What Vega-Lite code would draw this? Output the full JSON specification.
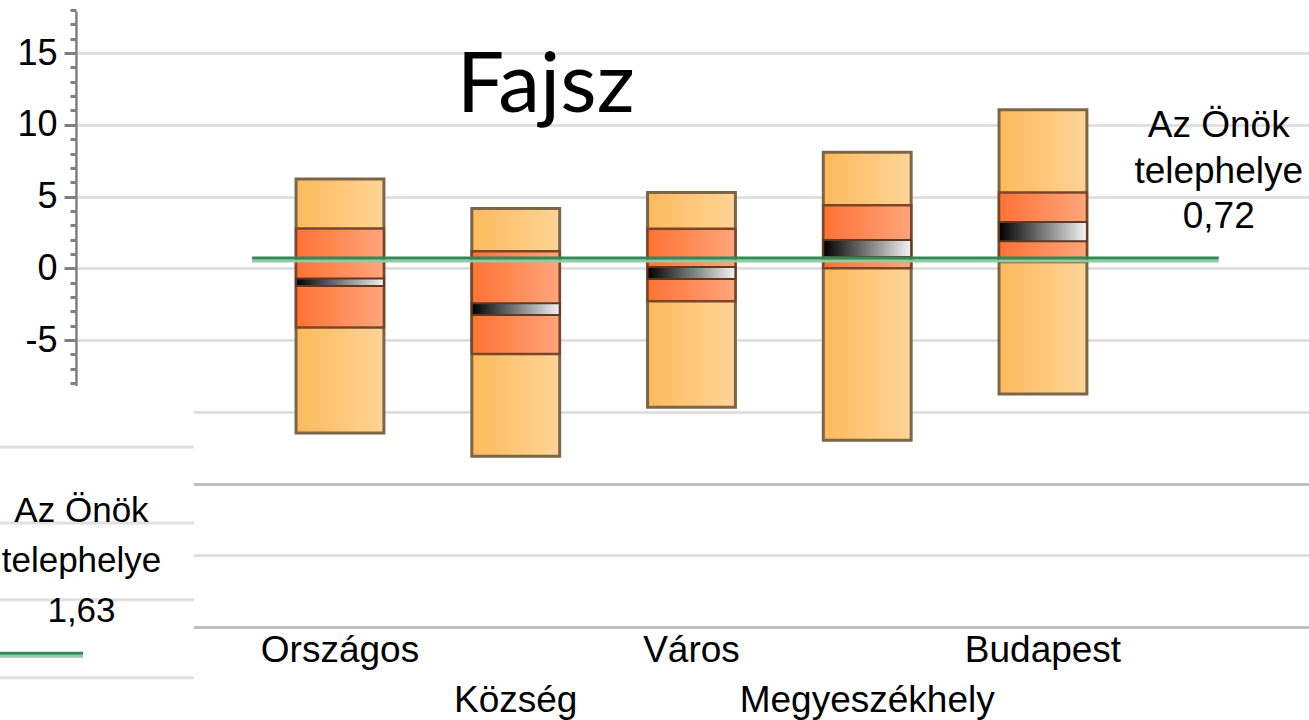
{
  "$schema": "https://vega.github.io/schema/vega-lite/v6.json",
  "autosize": {"type": "none"},
  "padding": {"left": 76, "top": 0, "right": 0, "bottom": 93},
  "width": 1233,
  "height": 627,
  "background": "white",
  "config": {"view": {"stroke": null}},
  "datasets": {
    "boxes": [
      {"cat": "Országos", "min": -11.48, "q1": -4.13, "ciLo": -1.23, "ciHi": -0.71, "q3": 2.77, "max": 6.22},
      {"cat": "Község", "min": -13.1, "q1": -5.97, "ciLo": -3.26, "ciHi": -2.43, "q3": 1.18, "max": 4.17},
      {"cat": "Város", "min": -9.69, "q1": -2.3, "ciLo": -0.75, "ciHi": 0.09, "q3": 2.76, "max": 5.28},
      {"cat": "Megyeszékhely", "min": -11.99, "q1": 0.01, "ciLo": 0.79, "ciHi": 1.97, "q3": 4.39, "max": 8.08},
      {"cat": "Budapest", "min": -8.76, "q1": 0.44, "ciLo": 1.88, "ciHi": 3.23, "q3": 5.28, "max": 11.05}
    ],
    "site": [{"start": "Országos", "cat": "Az Önök telephelye", "label": "Az Önök\ntelephelye\n0,72", "value": 0.72}],
    "title": [{"cat": "Község", "title": "Fajsz"}],
    "panel": [{"panel": "bal", "label": "Az Önök\ntelephelye\n1,63", "value": 1.63}],
    "panelLines": [
      {"panel": "bal", "v": -12.45},
      {"panel": "bal", "v": -17.75},
      {"panel": "bal", "v": -23.1},
      {"panel": "bal", "v": -28.53}
    ]
  },
  "resolve": {"scale": {"x": "independent"}, "axis": {"x": "independent"}},
  "layer": [
    {
      "layer": [
        {
          "data": {"name": "boxes"},
          "mark": {"type": "bar", "width": {"band": 0.5}, "fill": {"gradient": "linear", "x1": 0, "y1": 0, "x2": 1, "y2": 0, "stops": [{"offset": 0, "color": "#fdba5c"}, {"offset": 1, "color": "#ffd497"}]}, "stroke": "#7c6648", "strokeWidth": 3},
          "encoding": {
            "x": {"field": "cat", "type": "nominal",
              "scale": {"type": "band", "domain": ["Országos", "Község", "Város", "Megyeszékhely", "Budapest", "Az Önök telephelye"], "range": [0, 1233], "paddingInner": 0, "paddingOuter": 0.50782, "align": 0.98655},
              "axis": {"values": ["Országos", "Község", "Város", "Megyeszékhely", "Budapest"], "title": null, "domain": true, "domainColor": "#c0c0c0", "domainWidth": 3, "ticks": false, "grid": false,
                "labelExpr": "datum.value === 'Község' || datum.value === 'Megyeszékhely' ? ['', datum.value] : datum.value",
                "labelFont": "Liberation Sans", "labelFontSize": 37, "labelColor": "#000000", "labelPadding": 5, "labelLineHeight": 50, "labelOverlap": false, "labelAngle": 0, "labelLimit": 0}},
            "y": {"field": "max", "type": "quantitative",
              "scale": {"domain": [-25, 18.7], "nice": false, "zero": false},
              "axis": {"title": null, "domain": false, "tickCount": 200,
                "values": [-25,-24,-23,-22,-21,-20,-19,-18,-17,-16,-15,-14,-13,-12,-11,-10,-9,-8,-7,-6,-5,-4,-3,-2,-1,0,1,2,3,4,5,6,7,8,9,10,11,12,13,14,15,16,17,18],
                "labelExpr": "datum.value % 5 === 0 && datum.value >= -5 && datum.value <= 15 ? toString(datum.value) : ''",
                "labelFont": "Liberation Sans", "labelFontSize": 36, "labelColor": "#000000", "labelPadding": 7, "labelOverlap": false, "labelFlush": false, "labelBound": false,
                "tickSize": {"condition": {"test": "datum.value % 5 === 0", "value": 12}, "value": 6},
                "tickOpacity": {"condition": {"test": "datum.value >= -8", "value": 1}, "value": 0},
                "tickColor": "#808080", "tickWidth": 3,
                "grid": true,
                "gridOpacity": {"condition": {"test": "datum.value % 5 === 0", "value": 1}, "value": 0},
                "gridColor": {"condition": {"test": "datum.value === -15 || datum.value === -25", "value": "#c0c0c0"}, "value": "#e0e0e0"},
                "gridWidth": 3}},
            "y2": {"field": "min"}
          }
        },
        {
          "data": {"name": "boxes"},
          "mark": {"type": "bar", "width": {"band": 0.5}, "fill": {"gradient": "linear", "x1": 0, "y1": 0, "x2": 1, "y2": 0, "stops": [{"offset": 0, "color": "#ff7234"}, {"offset": 1, "color": "#ffa57d"}]}, "stroke": "#7a4626", "strokeWidth": 2.5},
          "encoding": {
            "x": {"field": "cat", "type": "nominal", "scale": {"type": "band", "domain": ["Országos", "Község", "Város", "Megyeszékhely", "Budapest", "Az Önök telephelye"], "range": [0, 1233], "paddingInner": 0, "paddingOuter": 0.50782, "align": 0.98655}},
            "y": {"field": "q3", "type": "quantitative"},
            "y2": {"field": "q1"}
          }
        },
        {
          "data": {"name": "boxes"},
          "mark": {"type": "bar", "width": {"band": 0.5}, "fill": {"gradient": "linear", "x1": 0, "y1": 0, "x2": 1, "y2": 0, "stops": [{"offset": 0, "color": "#000000"}, {"offset": 1, "color": "#f4f4f4"}]}, "stroke": "#5e3a24", "strokeWidth": 2},
          "encoding": {
            "x": {"field": "cat", "type": "nominal", "scale": {"type": "band", "domain": ["Országos", "Község", "Város", "Megyeszékhely", "Budapest", "Az Önök telephelye"], "range": [0, 1233], "paddingInner": 0, "paddingOuter": 0.50782, "align": 0.98655}},
            "y": {"field": "ciHi", "type": "quantitative"},
            "y2": {"field": "ciLo"}
          }
        },
        {
          "data": {"name": "site"},
          "mark": {"type": "rule", "color": "#96c9a6", "strokeWidth": 3, "yOffset": 3},
          "encoding": {
            "x": {"field": "start", "type": "nominal", "bandPosition": 0, "scale": {"type": "band", "domain": ["Országos", "Község", "Város", "Megyeszékhely", "Budapest", "Az Önök telephelye"], "range": [0, 1233], "paddingInner": 0, "paddingOuter": 0.50782, "align": 0.98655}},
            "x2": {"field": "cat", "bandPosition": 0.5},
            "y": {"field": "value", "type": "quantitative"}
          }
        },
        {
          "data": {"name": "site"},
          "mark": {"type": "rule", "color": "#2e8a56", "strokeWidth": 3},
          "encoding": {
            "x": {"field": "start", "type": "nominal", "bandPosition": 0, "scale": {"type": "band", "domain": ["Országos", "Község", "Város", "Megyeszékhely", "Budapest", "Az Önök telephelye"], "range": [0, 1233], "paddingInner": 0, "paddingOuter": 0.50782, "align": 0.98655}},
            "x2": {"field": "cat", "bandPosition": 0.5},
            "y": {"field": "value", "type": "quantitative"}
          }
        },
        {
          "data": {"name": "site"},
          "mark": {"type": "text", "align": "center", "baseline": "alphabetic", "lineBreak": "\n", "lineHeight": 45.5, "font": "Liberation Sans", "fontSize": 37, "color": "#000000", "dy": -120.7},
          "encoding": {
            "x": {"field": "cat", "type": "nominal", "bandPosition": 0.5, "scale": {"type": "band", "domain": ["Országos", "Község", "Város", "Megyeszékhely", "Budapest", "Az Önök telephelye"], "range": [0, 1233], "paddingInner": 0, "paddingOuter": 0.50782, "align": 0.98655}},
            "y": {"field": "value", "type": "quantitative"},
            "text": {"field": "label"}
          }
        },
        {
          "data": {"name": "title"},
          "mark": {"type": "text", "align": "center", "baseline": "alphabetic", "font": "Lato", "fontSize": 84, "color": "#000000", "dx": 30},
          "encoding": {
            "x": {"field": "cat", "type": "nominal", "bandPosition": 0.5, "scale": {"type": "band", "domain": ["Országos", "Község", "Város", "Megyeszékhely", "Budapest", "Az Önök telephelye"], "range": [0, 1233], "paddingInner": 0, "paddingOuter": 0.50782, "align": 0.98655}},
            "y": {"datum": 10.91, "type": "quantitative"},
            "text": {"field": "title"}
          }
        }
      ]
    },
    {
      "layer": [
        {
          "data": {"name": "panel"},
          "mark": {"type": "bar", "width": {"band": 1}, "fill": "#ffffff"},
          "encoding": {
            "x": {"field": "panel", "type": "nominal", "axis": null, "scale": {"type": "band", "domain": ["bal"], "range": [-76, 118], "paddingInner": 0, "paddingOuter": 0}},
            "y": {"datum": -8.83, "type": "quantitative"},
            "y2": {"datum": -32}
          }
        },
        {
          "data": {"name": "panelLines"},
          "mark": {"type": "rule", "color": "#e0e0e0", "strokeWidth": 3},
          "encoding": {
            "x": {"field": "panel", "type": "nominal", "axis": null, "bandPosition": 0, "scale": {"type": "band", "domain": ["bal"], "range": [-76, 118], "paddingInner": 0, "paddingOuter": 0}},
            "x2": {"field": "panel", "bandPosition": 1},
            "y": {"field": "v", "type": "quantitative"}
          }
        },
        {
          "data": {"name": "panel"},
          "mark": {"type": "rule", "color": "#96c9a6", "strokeWidth": 3, "yOffset": 3},
          "encoding": {
            "x": {"field": "panel", "type": "nominal", "axis": null, "bandPosition": 0, "scale": {"type": "band", "domain": ["bal"], "range": [-76, 118], "paddingInner": 0, "paddingOuter": 0}},
            "x2": {"field": "panel", "bandPosition": 0.428},
            "y": {"datum": -26.83, "type": "quantitative"}
          }
        },
        {
          "data": {"name": "panel"},
          "mark": {"type": "rule", "color": "#2e8a56", "strokeWidth": 3},
          "encoding": {
            "x": {"field": "panel", "type": "nominal", "axis": null, "bandPosition": 0, "scale": {"type": "band", "domain": ["bal"], "range": [-76, 118], "paddingInner": 0, "paddingOuter": 0}},
            "x2": {"field": "panel", "bandPosition": 0.428},
            "y": {"datum": -26.83, "type": "quantitative"}
          }
        },
        {
          "data": {"name": "panel"},
          "mark": {"type": "text", "align": "center", "baseline": "alphabetic", "lineBreak": "\n", "lineHeight": 50, "font": "Liberation Sans", "fontSize": 35, "color": "#000000"},
          "encoding": {
            "x": {"field": "panel", "type": "nominal", "axis": null, "bandPosition": 0.42, "scale": {"type": "band", "domain": ["bal"], "range": [-76, 118], "paddingInner": 0, "paddingOuter": 0}},
            "y": {"datum": -17.66, "type": "quantitative"},
            "text": {"field": "label"}
          }
        },
        {
          "data": {"name": "panel"},
          "mark": {"type": "rule", "color": "#808080", "strokeWidth": 2.5},
          "encoding": {
            "x": {"field": "panel", "type": "nominal", "axis": null, "bandPosition": 0.394, "scale": {"type": "band", "domain": ["bal"], "range": [-76, 118], "paddingInner": 0, "paddingOuter": 0}},
            "y": {"datum": 17.9, "type": "quantitative"},
            "y2": {"datum": -8.2}
          }
        }
      ]
    }
  ]
}
